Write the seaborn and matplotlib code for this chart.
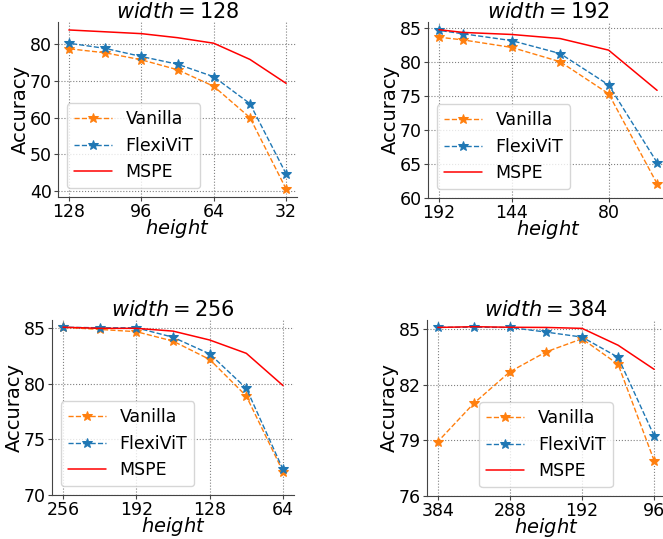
import matplotlib
matplotlib.use("Agg")
import seaborn as sns
import matplotlib.pyplot as plt

# heights per panel and accuracy
h128 = [128, 112, 96, 80, 64, 48, 32]
van128 = [78.7, 77.6, 75.7, 73.0, 68.5, 60.0, 40.6]
flex128 = [80.2, 78.8, 76.6, 74.5, 71.1, 63.8, 44.7]
mspe128 = [83.8, 83.3, 82.8, 81.7, 80.2, 75.8, 69.3]

h192 = [192, 176, 144, 112, 80, 48]
van192 = [83.6, 83.2, 82.1, 80.0, 75.3, 62.1]
flex192 = [84.6, 84.1, 83.1, 81.2, 76.6, 65.2]
mspe192 = [84.7, 84.3, 84.0, 83.4, 81.7, 75.8]

h256 = [256, 224, 192, 160, 128, 96, 64]
van256 = [85.1, 84.9, 84.7, 83.85, 82.2, 78.9, 72.1]
flex256 = [85.1, 85.05, 85.05, 84.2, 82.7, 79.6, 72.3]
mspe256 = [85.1, 85.0, 85.0, 84.75, 83.95, 82.75, 79.85]

h384 = [384, 336, 288, 240, 192, 144, 96]
van384 = [78.93, 81.0, 82.7, 83.77, 84.48, 83.1, 77.9]
flex384 = [85.1, 85.1, 85.09, 84.84, 84.57, 83.48, 79.24]
mspe384 = [85.09, 85.13, 85.1, 85.09, 85.04, 84.13, 82.83]

widths = [128, 192, 256, 384]
xticks = [[128, 96, 64, 32], [192, 144, 80], [256, 192, 128, 64], [384, 288, 192, 96]]
yticks = [[40, 50, 60, 70, 80], [60, 65, 70, 75, 80, 85], [70, 75, 80, 85], [76, 79, 82, 85]]
ybottom = [None, 60, 70, 76]
legend_loc = ['lower left', 'lower left', 'lower left', 'lower center']

panels = [
    (h128, van128, flex128, mspe128),
    (h192, van192, flex192, mspe192),
    (h256, van256, flex256, mspe256),
    (h384, van384, flex384, mspe384),
]

W, H = 663, 539
# axes boxes in pixels: left, top, right, bottom
boxes = [(58, 22, 297, 197), (428, 22, 668, 198), (52, 320, 294, 495), (427, 320, 665, 496)]

sns.set_style("ticks")
plt.rcParams['font.family'] = ['DejaVu Sans']
plt.rcParams['text.color'] = 'black'
plt.rcParams['axes.labelcolor'] = 'black'
plt.rcParams['xtick.color'] = 'black'
plt.rcParams['ytick.color'] = 'black'
fig = plt.figure(figsize=(W / 100, H / 100), dpi=100)

for i, (h, van, flex, mspe) in enumerate(panels):
    l, t, r, b = boxes[i]
    ax = fig.add_axes([l / W, 1 - b / H, (r - l) / W, (b - t) / H])
    sns.lineplot(x=h, y=van, ax=ax, color='#ff7f0e', linestyle='--', lw=1,
                 marker='*', markersize=7, markeredgecolor='#ff7f0e', label='Vanilla')
    sns.lineplot(x=h, y=flex, ax=ax, color='#1f77b4', linestyle='--', lw=1,
                 marker='*', markersize=7, markeredgecolor='#1f77b4', label='FlexiViT')
    sns.lineplot(x=h, y=mspe, ax=ax, color='red', lw=1.1, label='MSPE')
    ax.invert_xaxis()
    ax.set_xticks(xticks[i])
    ax.set_yticks(yticks[i])
    if ybottom[i] is not None:
        ax.set_ylim(bottom=ybottom[i])
    ax.grid(True, linestyle=':', color='gray', lw=0.8)
    sns.despine(ax=ax)
    for s in ax.spines.values():
        s.set_color('#444444')
    ax.tick_params(labelsize=12.5, length=3, pad=1.5, color='#444444')
    ax.set_title(r'$width = %d$' % widths[i], fontsize=15, pad=3)
    ax.set_xlabel('$height$', fontsize=14, labelpad=-3)
    ax.set_ylabel('Accuracy', fontsize=14, labelpad=0)
    ax.legend(loc=legend_loc[i], fontsize=12.5, handlelength=2.2, handletextpad=0.8)

fig.savefig('out.png', dpi=100)
